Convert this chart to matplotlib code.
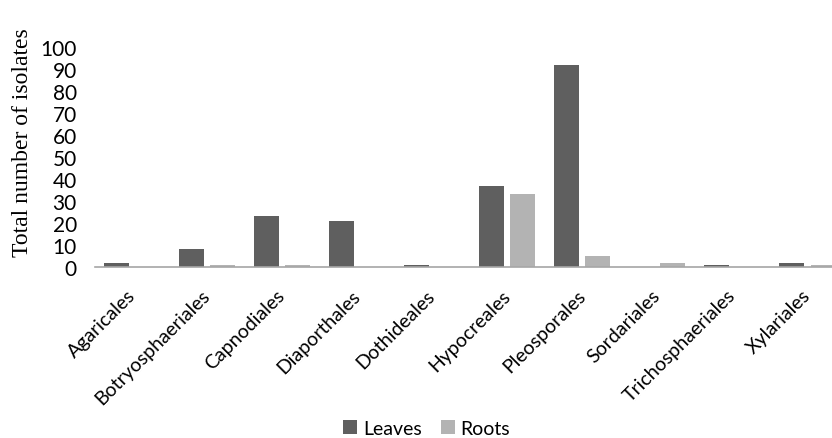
import matplotlib.pyplot as plt
import matplotlib.transforms as mtransforms
import numpy as np

orders = ["Agaricales", "Botryosphaeriales", "Capnodiales", "Diaporthales",
          "Dothideales", "Hypocreales", "Pleosporales", "Sordariales",
          "Trichosphaeriales", "Xylariales"]
leaves = [2, 8, 23, 21, 1, 37, 92, 0, 1, 2]
roots = [0, 1, 1, 0, 0, 33, 5, 2, 0, 1]

plt.rcParams['font.family'] = ['Lato', 'DejaVu Sans']

fig = plt.figure(figsize=(8.32, 4.39), dpi=100)
ax = fig.add_axes([0.114, 0.3895, 0.9016, 0.5012])

x = np.arange(len(orders))
w = 0.333
ax.bar(x - 0.207, leaves, w, color="#5f5f5f", label="Leaves")
ax.bar(x + 0.207, roots, w, color="#b3b3b3", label="Roots")

ax.set_xlim(-0.5, len(orders) - 0.5)
ax.set_ylim(0, 100)
ax.set_yticks(range(0, 101, 10))
ax.tick_params(axis="y", labelsize=15, length=0, pad=13)
ax.tick_params(axis="x", length=0, labelsize=14, pad=14)
ax.set_xticks(x)
ax.set_xticklabels(orders, rotation=45, ha="right", rotation_mode="anchor")
shift = mtransforms.ScaledTranslation(-0.06, 0, fig.dpi_scale_trans)
for lab in ax.get_xticklabels():
    lab.set_transform(lab.get_transform() + shift)

for s in ["top", "right", "left"]:
    ax.spines[s].set_visible(False)
ax.spines["bottom"].set_color("#a6a6a6")
ax.spines["bottom"].set_linewidth(1.2)

ax.set_ylabel("Total number of isolates", family="Liberation Serif", fontsize=17)
ax.yaxis.set_label_coords(-0.083, 0.568)

fig.legend(loc="center", bbox_to_anchor=(0.513, 0.022), ncol=2, frameon=False,
           fontsize=14, handlelength=0.7, handleheight=0.7,
           handletextpad=0.3, columnspacing=1.0)

fig.savefig("out.png", dpi=100)
